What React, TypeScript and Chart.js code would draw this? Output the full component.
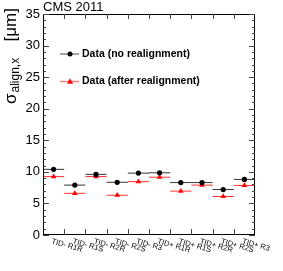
import React, { useEffect, useRef } from 'react';
import { Chart, registerables } from 'chart.js';

Chart.register(...registerables);

const categories = ['TID- R1R', 'TID- R1S', 'TID- R2R', 'TID- R2S', 'TID- R3', 'TID+ R1R', 'TID+ R1S', 'TID+ R2R', 'TID+ R2S', 'TID+ R3'];
const noRealign = [10.4, 7.9, 9.6, 8.35, 9.8, 9.85, 8.3, 8.3, 7.2, 8.8];
const afterRealign = [9.25, 6.6, 9.25, 6.3, 8.45, 9.15, 6.95, 7.9, 6.1, 7.85];
const yMin = 0;
const yMax = 35;
const yStep = 5;
const legendLabels = ['Data (no realignment)', 'Data (after realignment)'];
const titleText = 'CMS 2011';

const FONT = '"Liberation Sans", Arial, Helvetica, sans-serif';

function barData(values: number[]) {
  const out: { x: number; y: number | null }[] = [];
  values.forEach((v, i) => {
    out.push({ x: i, y: v });
    out.push({ x: i + 1, y: v });
    out.push({ x: i + 1, y: null });
  });
  return out;
}

function drawTriangle(ctx: CanvasRenderingContext2D, x: number, y: number, r: number) {
  ctx.beginPath();
  ctx.moveTo(x, y - r);
  ctx.lineTo(x + r * 0.95, y + r * 0.7);
  ctx.lineTo(x - r * 0.95, y + r * 0.7);
  ctx.closePath();
  ctx.fill();
}

const decor = {
  id: 'decor',
  afterDraw(chart: any) {
    const ctx: CanvasRenderingContext2D = chart.ctx;
    const { left, right, top, bottom } = chart.chartArea;
    const xs = chart.scales.x;
    const ys = chart.scales.y;
    ctx.save();

    // frame
    ctx.strokeStyle = '#000';
    ctx.lineWidth = 1;
    ctx.strokeRect(left + 0.5, top + 0.5, right - left - 1, bottom - top - 1);

    // y ticks (left and right, inward)
    ctx.strokeStyle = '#444';
    for (let v = yMin; v <= yMax; v += 1) {
      const py = Math.round(ys.getPixelForValue(v)) + 0.5;
      const len = v % yStep === 0 ? 6 : 3;
      ctx.beginPath();
      ctx.moveTo(left, py);
      ctx.lineTo(left + len, py);
      ctx.moveTo(right, py);
      ctx.lineTo(right - len, py);
      ctx.stroke();
    }
    // x ticks at category boundaries
    for (let i = 1; i < categories.length; i++) {
      const px = Math.round(xs.getPixelForValue(i)) + 0.5;
      ctx.beginPath();
      ctx.moveTo(px, bottom);
      ctx.lineTo(px, bottom - 6);
      ctx.moveTo(px, top);
      ctx.lineTo(px, top + 5);
      ctx.stroke();
    }

    // x labels, rotated
    ctx.fillStyle = '#000';
    ctx.font = `7.6px ${FONT}`;
    ctx.textAlign = 'left';
    ctx.textBaseline = 'top';
    categories.forEach((c, i) => {
      const cx = xs.getPixelForValue(i + 0.5);
      ctx.save();
      ctx.translate(cx - 1, bottom + 2.5);
      ctx.rotate((16 * Math.PI) / 180);
      ctx.fillText(c, 0, 0);
      ctx.restore();
    });

    // title
    ctx.font = `13px ${FONT}`;
    ctx.textBaseline = 'alphabetic';
    ctx.fillText(titleText, left, 11);

    // y-axis title
    ctx.save();
    const mainFont = `17px ${FONT}`;
    const subFont = `12px ${FONT}`;
    ctx.font = mainFont;
    const wSigma = ctx.measureText('σ').width;
    const wUnit = ctx.measureText('[μm]').width;
    const total = 96;
    ctx.translate(16, 8 + total);
    ctx.rotate(-Math.PI / 2);
    ctx.font = mainFont;
    ctx.fillText('σ', 0, 0);
    ctx.font = subFont;
    ctx.fillText('align,x', wSigma + 1, 3);
    ctx.font = mainFont;
    ctx.fillText('[μm]', total - wUnit, 0);
    ctx.restore();

    // legend
    const rows = [
      { y: 54, line: '#888', color: '#000', marker: 'circle' },
      { y: 81.5, line: '#ff8080', color: '#ff0000', marker: 'triangle' },
    ];
    rows.forEach((r, k) => {
      ctx.strokeStyle = r.line;
      ctx.lineWidth = 1.5;
      ctx.beginPath();
      ctx.moveTo(60, r.y);
      ctx.lineTo(79, r.y);
      ctx.stroke();
      ctx.fillStyle = r.color;
      if (r.marker === 'circle') {
        ctx.beginPath();
        ctx.arc(70, r.y, 2.5, 0, Math.PI * 2);
        ctx.fill();
      } else {
        drawTriangle(ctx, 70, r.y, 3.2);
      }
      ctx.fillStyle = '#000';
      ctx.font = `bold 10.5px ${FONT}`;
      ctx.textBaseline = 'middle';
      ctx.fillText(legendLabels[k], 82, r.y);
    });

    ctx.restore();
  },
};

export default function App() {
  const ref = useRef<HTMLCanvasElement | null>(null);
  useEffect(() => {
    if (!ref.current) return;
    const chart = new Chart(ref.current, {
      type: 'line',
      data: {
        datasets: [
          {
            data: noRealign.map((v, i) => ({ x: i + 0.5, y: v })),
            showLine: false,
            pointStyle: 'circle',
            pointRadius: 2.6,
            pointBackgroundColor: '#000',
            pointBorderColor: '#000',
            pointBorderWidth: 0,
          },
          {
            data: afterRealign.map((v, i) => ({ x: i + 0.5, y: v })),
            showLine: false,
            pointStyle: 'triangle',
            pointRadius: 3.2,
            pointBackgroundColor: '#ff0000',
            pointBorderColor: '#ff0000',
            pointBorderWidth: 0,
          },
          {
            data: barData(noRealign),
            showLine: true,
            pointRadius: 0,
            borderColor: '#333',
            borderWidth: 1,
            spanGaps: false,
          },
          {
            data: barData(afterRealign),
            showLine: true,
            pointRadius: 0,
            borderColor: '#ff3030',
            borderWidth: 1,
            spanGaps: false,
          },
        ],
      } as any,
      options: {
        responsive: false,
        animation: false,
        layout: { padding: { top: 14, right: 28, bottom: 0, left: 0 } },
        plugins: { legend: { display: false }, tooltip: { enabled: false } },
        scales: {
          x: {
            type: 'linear',
            min: 0,
            max: categories.length,
            ticks: { display: false },
            grid: { display: false, drawTicks: false },
            border: { display: false },
            afterFit: (s: any) => {
              s.height = 36;
            },
          },
          y: {
            type: 'linear',
            min: yMin,
            max: yMax,
            ticks: {
              stepSize: yStep,
              padding: 3,
              color: '#000',
              font: { family: FONT, size: 13 },
            },
            grid: { display: false, drawTicks: false },
            border: { display: false },
            afterFit: (s: any) => {
              s.width = 43;
            },
          },
        },
      } as any,
      plugins: [decor],
    });
    return () => chart.destroy();
  }, []);
  return (
    <div style={{ position: 'fixed', left: 0, top: 0, width: 283, height: 271, background: '#fff' }}>
      <canvas ref={ref} width={283} height={271} />
    </div>
  );
}
